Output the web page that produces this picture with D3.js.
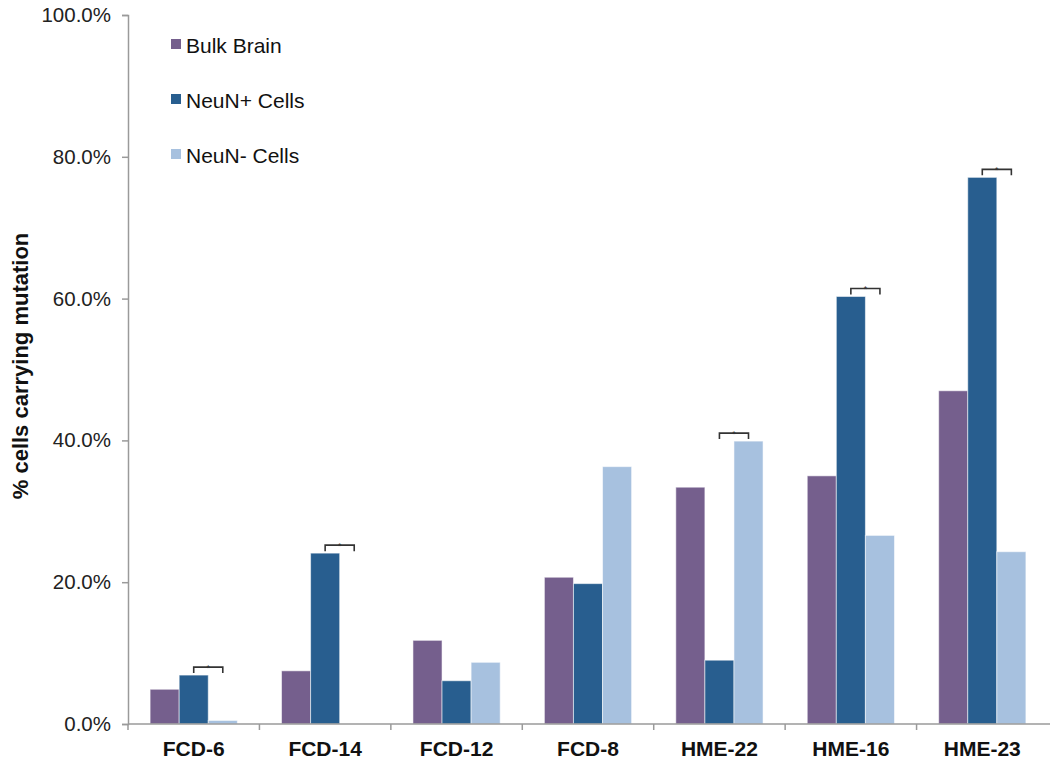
<!DOCTYPE html>
<html>
<head>
<meta charset="utf-8">
<script src="https://cdn.jsdelivr.net/npm/d3@7"></script>
<style>
  body { margin: 0; background: #fff; }
  svg { display: block; font-family: 'Liberation Sans', Arial, Helvetica, sans-serif; }
</style>
</head>
<body>
<div id="chart"></div>
<script>
const categories = ['FCD-6', 'FCD-14', 'FCD-12', 'FCD-8', 'HME-22', 'HME-16', 'HME-23'];
const seriesNames = ['Bulk Brain', 'NeuN+ Cells', 'NeuN- Cells'];
const bulkBrain = [4.9, 7.5, 11.8, 20.7, 33.4, 35.0, 47.0];
const neunPos = [6.9, 24.1, 6.1, 19.8, 9.0, 60.3, 77.1];
const neunNeg = [0.5, 0, 8.7, 36.3, 39.9, 26.6, 24.3];
const significant = ['FCD-6', 'FCD-14', 'HME-22', 'HME-16', 'HME-23'];
const yTicks = [0, 20, 40, 60, 80, 100];

const colors = ['#755f8d', '#285e8f', '#a7c1df'];
const width = 1050;
const height = 766;

const rows = categories.map((c, i) => ({
  category: c,
  values: [bulkBrain[i], neunPos[i], neunNeg[i]],
}));

const svg = d3.select('#chart').append('svg')
  .attr('width', width)
  .attr('height', height);

const x0 = d3.scaleBand()
  .domain(categories)
  .range([128, 1048]);

const x1 = d3.scaleBand()
  .domain(d3.range(seriesNames.length))
  .range([0, x0.bandwidth()])
  .paddingOuter(0.76);

const y = d3.scaleLinear()
  .domain([0, 100])
  .range([724, 15]);

// bars
const groups = svg.append('g').selectAll('g')
  .data(rows)
  .join('g')
  .attr('transform', d => `translate(${x0(d.category)},0)`);

groups.selectAll('rect')
  .data(d => d.values)
  .join('rect')
  .attr('x', (d, i) => x1(i))
  .attr('y', d => y(d))
  .attr('width', x1.bandwidth())
  .attr('height', d => y(0) - y(d))
  .attr('fill', (d, i) => colors[i])
  .attr('stroke', 'rgba(255,255,255,0.55)')
  .attr('stroke-width', 1);

// significance brackets between NeuN+ and NeuN-
const sig = svg.append('g');
rows.filter(d => significant.includes(d.category)).forEach(d => {
  const xa = x0(d.category) + x1(1) + x1.bandwidth() / 2;
  const xb = x0(d.category) + x1(2) + x1.bandwidth() / 2;
  const top = y(Math.max(d.values[1], d.values[2])) - 8;
  sig.append('path')
    .attr('d', `M${xa},${top + 6}V${top}H${xb}V${top + 6}`)
    .attr('fill', 'none')
    .attr('stroke', '#333')
    .attr('stroke-width', 1.6);
  sig.append('text')
    .attr('x', (xa + xb) / 2)
    .attr('y', top + 4)
    .attr('text-anchor', 'middle')
    .attr('font-size', 9)
    .attr('fill', '#333')
    .text('*');
});

// y axis
const yAxis = svg.append('g')
  .attr('transform', 'translate(128,0)')
  .call(d3.axisLeft(y).tickValues(yTicks).tickFormat(d => d.toFixed(1) + '%').tickSize(6).tickPadding(11));
yAxis.select('.domain').attr('stroke', '#9a9a9a').attr('stroke-width', 1.5);
yAxis.selectAll('.tick line').attr('stroke', '#9a9a9a').attr('stroke-width', 1.5);
yAxis.selectAll('.tick text')
  .attr('font-size', 20.5)
  .attr('font-family', "'Liberation Sans', Arial, sans-serif")
  .attr('fill', '#222');

// x axis, ticks sit between categories
const xAxisG = svg.append('g');
xAxisG.append('line')
  .attr('x1', 128).attr('x2', 1050)
  .attr('y1', y(0)).attr('y2', y(0))
  .attr('stroke', '#9a9a9a').attr('stroke-width', 1.5);
xAxisG.selectAll('line.tk')
  .data(categories)
  .join('line')
  .attr('class', 'tk')
  .attr('x1', d => x0(d)).attr('x2', d => x0(d))
  .attr('y1', y(0)).attr('y2', y(0) + 6)
  .attr('stroke', '#9a9a9a').attr('stroke-width', 1.5);
xAxisG.selectAll('text')
  .data(categories)
  .join('text')
  .attr('x', d => x0(d) + x0.bandwidth() / 2)
  .attr('y', 756)
  .attr('text-anchor', 'middle')
  .attr('font-size', 21)
  .attr('font-weight', 'bold')
  .attr('fill', '#111')
  .text(d => d);

// y axis title
svg.append('text')
  .attr('transform', 'translate(28,366) rotate(-90)')
  .attr('text-anchor', 'middle')
  .attr('font-size', 22)
  .attr('font-weight', 'bold')
  .attr('fill', '#111')
  .text('% cells carrying mutation');

// legend
const legend = svg.append('g').selectAll('g')
  .data(seriesNames)
  .join('g')
  .attr('transform', (d, i) => `translate(171,${53 + i * 55})`);
legend.append('rect')
  .attr('x', 0).attr('y', -14)
  .attr('width', 10).attr('height', 10)
  .attr('fill', (d, i) => colors[i]);
legend.append('text')
  .attr('x', 15).attr('y', 0)
  .attr('font-size', 21)
  .attr('fill', '#111')
  .text(d => d);
</script>
</body>
</html>
